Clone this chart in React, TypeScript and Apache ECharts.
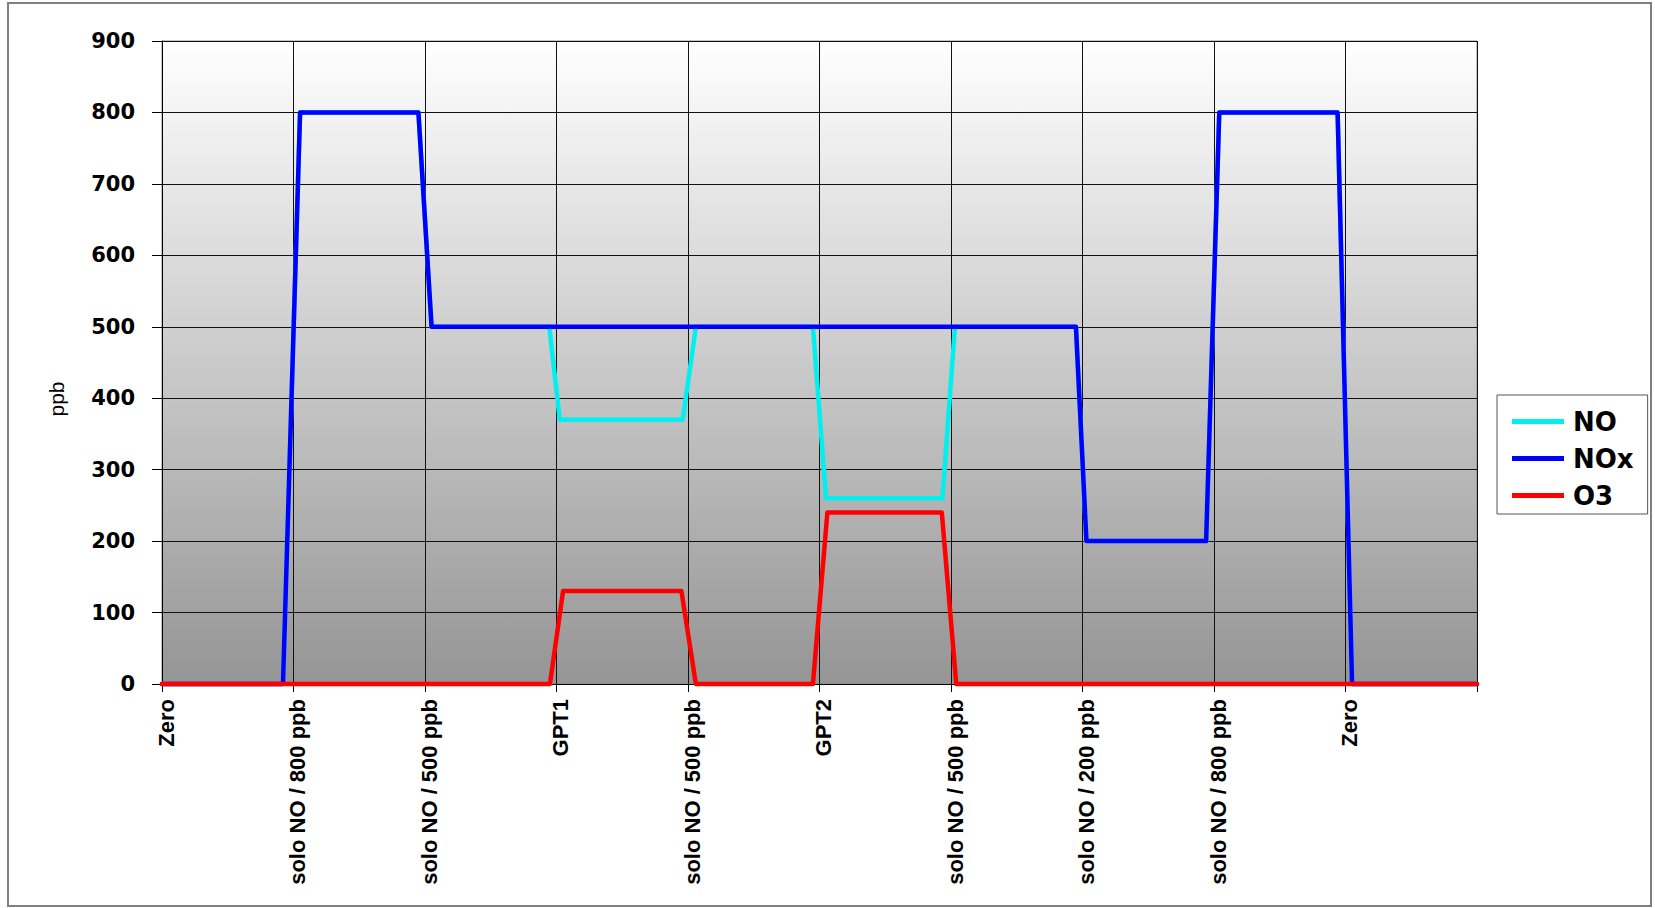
import React, { useEffect, useRef } from "react";
import * as echarts from "echarts";

// Category labels placed on the x-axis tick marks (0..9); tick 10 has no label
const stepLabels = [
  "Zero",
  "solo NO / 800 ppb",
  "solo NO / 500 ppb",
  "GPT1",
  "solo NO / 500 ppb",
  "GPT2",
  "solo NO / 500 ppb",
  "solo NO / 200 ppb",
  "solo NO / 800 ppb",
  "Zero",
];

const seriesNames = ["NO", "NOx", "O3"];

// NO (ppb) — breakpoints in step units
const noX = [0, 0.92, 1.05, 1.95, 2.05, 2.945, 3.025, 3.96, 4.06, 4.95, 5.05, 5.935, 6.03, 6.95, 7.03, 7.94, 8.04, 8.94, 9.05, 10];
const noY = [0, 0, 800, 800, 500, 500, 370, 370, 500, 500, 260, 260, 500, 500, 200, 200, 800, 800, 0, 0];

// NOx (ppb)
const noxX = [0, 0.92, 1.05, 1.95, 2.05, 6.95, 7.03, 7.94, 8.04, 8.94, 9.05, 10];
const noxY = [0, 0, 800, 800, 500, 500, 200, 200, 800, 800, 0, 0];

// O3 (ppb)
const o3X = [0, 2.95, 3.05, 3.95, 4.06, 4.95, 5.06, 5.93, 6.04, 10];
const o3Y = [0, 0, 130, 130, 0, 0, 240, 240, 0, 0];

const yTicks = [0, 100, 200, 300, 400, 500, 600, 700, 800, 900];

const pairs = (xs: number[], ys: number[]) => xs.map((x, i) => [x, ys[i]]);

export default function App() {
  const ref = useRef<HTMLDivElement>(null);

  useEffect(() => {
    if (!ref.current) return;
    const chart = echarts.init(ref.current, undefined, { renderer: "svg" });
    const lineStyle = (color: string) => ({ color, width: 4.5, cap: "round" as const, join: "round" as const });
    chart.setOption({
      animation: false,
      backgroundColor: "#ffffff",
      graphic: [
        {
          type: "rect",
          shape: { x: 8, y: 3, width: 1643, height: 903 },
          style: { fill: "none", stroke: "#7f7f7f", lineWidth: 2 },
          silent: true,
          z: -10,
        },
      ],
      grid: {
        left: 162,
        right: 178,
        top: 41,
        bottom: 224,
        show: true,
        borderColor: "#8a8a8a",
        borderWidth: 1,
        backgroundColor: new echarts.graphic.LinearGradient(0, 0, 0, 1, [
          { offset: 0, color: "#ffffff" },
          { offset: 1, color: "#959595" },
        ]),
      },
      legend: {
        orient: "vertical",
        left: 1497,
        top: 395,
        data: seriesNames,
        icon: "rect",
        itemWidth: 52,
        itemHeight: 5,
        itemGap: 6,
        padding: [11, 14, 3, 15],
        borderColor: "#555555",
        borderWidth: 1,
        backgroundColor: "#ffffff",
        textStyle: {
          fontFamily: "DejaVu Sans",
          fontWeight: "bold",
          fontSize: 26,
          color: "#000",
          lineHeight: 31,
          padding: [0, 0, 0, 4],
        },
      },
      xAxis: {
        type: "value",
        min: 0,
        max: 10,
        interval: 1,
        axisLine: { show: true, onZero: false, lineStyle: { color: "#000", width: 1 } },
        axisTick: { show: true, length: 8, lineStyle: { color: "#000" } },
        splitLine: { show: true, lineStyle: { color: "#111", width: 1 } },
        axisLabel: {
          rotate: 90,
          margin: 15,
          verticalAlign: "top",
          lineHeight: 8,
          fontFamily: "Liberation Sans",
          fontWeight: "bold",
          fontSize: 22,
          color: "#000",
          formatter: (v: number) => {
            const i = Math.round(v);
            return i < stepLabels.length ? stepLabels[i] : "";
          },
        },
      },
      yAxis: {
        type: "value",
        min: yTicks[0],
        max: yTicks[yTicks.length - 1],
        interval: 100,
        name: "ppb",
        nameLocation: "middle",
        nameRotate: 90,
        nameGap: 95,
        nameTextStyle: {
          fontFamily: "Liberation Sans",
          fontSize: 21,
          color: "#000",
          padding: [0, 73, 0, 0],
        },
        axisLine: { show: true, lineStyle: { color: "#000", width: 1 } },
        axisTick: { show: true, length: 10, lineStyle: { color: "#000" } },
        splitLine: { show: true, lineStyle: { color: "#111", width: 1 } },
        axisLabel: {
          margin: 27,
          fontFamily: "DejaVu Sans",
          fontWeight: "bold",
          fontSize: 21,
          color: "#000",
        },
      },
      series: [
        {
          name: "NO",
          type: "line",
          data: pairs(noX, noY),
          showSymbol: false,
          symbol: "none",
          clip: false,
          lineStyle: lineStyle("#00f0f0"),
          itemStyle: { color: "#00f0f0" },
          z: 3,
        },
        {
          name: "NOx",
          type: "line",
          data: pairs(noxX, noxY),
          showSymbol: false,
          symbol: "none",
          clip: false,
          lineStyle: lineStyle("#0000ff"),
          itemStyle: { color: "#0000ff" },
          z: 4,
        },
        {
          name: "O3",
          type: "line",
          data: pairs(o3X, o3Y),
          showSymbol: false,
          symbol: "none",
          clip: false,
          lineStyle: lineStyle("#ff0000"),
          itemStyle: { color: "#ff0000" },
          z: 5,
        },
      ],
    });
    return () => chart.dispose();
  }, []);

  return (
    <div
      ref={ref}
      style={{ position: "absolute", left: 0, top: 0, width: 1655, height: 908 }}
    />
  );
}
